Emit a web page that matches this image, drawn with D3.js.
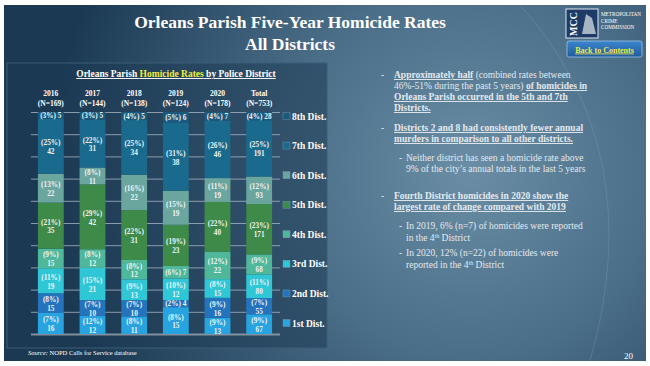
<!DOCTYPE html>
<html><head><meta charset="utf-8">
<script src="https://cdn.jsdelivr.net/npm/d3@7"></script>
<style>body{margin:0;background:#fff}svg{display:block}text{font-family:"Liberation Serif","Times New Roman",serif}</style>
</head><body><svg id="c" width="650" height="366"></svg>
<script>
// ---- data ----
const columns = ["2016","2017","2018","2019","2020","Total"];
const columnN = ["(N=169)","(N=144)","(N=138)","(N=124)","(N=178)","(N=753)"];
const districts = ["1st Dist.","2nd Dist.","3rd Dist.","4th Dist.","5th Dist.","6th Dist.","7th Dist.","8th Dist."];
const counts1st = [16,12,11,15,13,67];
const counts2nd = [15,10,10,4,16,55];
const counts3rd = [19,21,13,12,15,80];
const counts4th = [15,12,12,7,22,68];
const counts5th = [35,42,31,23,40,171];
const counts6th = [22,11,22,19,19,93];
const counts7th = [42,31,34,38,46,191];
const counts8th = [5,5,5,6,7,28];
const pct1st = [7,12,8,8,9,9];
const pct2nd = [8,7,7,2,9,7];
const pct3rd = [11,15,9,10,8,11];
const pct4th = [9,8,8,6,12,9];
const pct5th = [21,29,22,19,22,23];
const pct6th = [13,8,16,15,11,12];
const pct7th = [25,22,25,31,26,25];
const pct8th = [3,3,4,5,4,4];
const tickValues = [0,0.1,0.2,0.3,0.4,0.5,0.6,0.7,0.8,0.9,1];

const countsBy = [counts1st,counts2nd,counts3rd,counts4th,counts5th,counts6th,counts7th,counts8th];
const pctBy = [pct1st,pct2nd,pct3rd,pct4th,pct5th,pct6th,pct7th,pct8th];
const colors = ["#27a3df","#2373bd","#2fc6d6","#4fb79a","#3e8a48","#6aa59e","#196a8d","#1a5a7c"];

const svg = d3.select("#c");
const defs = svg.append("defs");
const rg = defs.append("radialGradient").attr("id","bg").attr("gradientUnits","userSpaceOnUse")
  .attr("cx",470).attr("cy",170).attr("r",420);
rg.append("stop").attr("offset","0").attr("stop-color","#6b8ea6");
rg.append("stop").attr("offset","0.45").attr("stop-color","#4a6d88");
rg.append("stop").attr("offset","1").attr("stop-color","#1b3953");
svg.append("rect").attr("x",4).attr("y",5).attr("width",642).attr("height",356).attr("fill","url(#bg)");
svg.append("path").attr("d","M520,5 Q650,150 590,361").attr("fill","none").attr("stroke","#7d9ab0").attr("stroke-opacity",0.35).attr("stroke-width",1);

// Title
svg.append("text").attr("x",290).attr("y",28).attr("text-anchor","middle").attr("fill","#fff")
  .attr("font-size",17.5).attr("font-weight","bold").text("Orleans Parish Five-Year Homicide Rates");
svg.append("text").attr("x",290).attr("y",50).attr("text-anchor","middle").attr("fill","#fff")
  .attr("font-size",17.5).attr("font-weight","bold").text("All Districts");

// Logo
const lg = svg.append("g");
lg.append("rect").attr("x",566).attr("y",9).attr("width",32).attr("height",29).attr("fill","#1d3b66").attr("stroke","#dfe7ef").attr("stroke-width",1);
lg.append("text").attr("transform","translate(577,36) rotate(-90)").attr("fill","#fff").attr("font-size",10).attr("font-weight","bold").text("MCC");
lg.append("path").attr("d","M582,34 L586,14 L592,18 L596,34 Z").attr("fill","#c9d3dc").attr("opacity",0.8);
["METROPOLITAN","CRIME","COMMISSION"].forEach((t,i)=>{
  lg.append("text").attr("x",601).attr("y",16+i*6.5).attr("fill","#fff").attr("font-size",5.2).text(t);
});
// Button
const bg2 = defs.append("linearGradient").attr("id","btn").attr("x1",0).attr("y1",0).attr("x2",0).attr("y2",1);
bg2.append("stop").attr("offset",0).attr("stop-color","#3b86cf");
bg2.append("stop").attr("offset",1).attr("stop-color","#1f5b9c");
svg.append("rect").attr("x",567).attr("y",41).attr("width",75).attr("height",16).attr("rx",2).attr("fill","url(#btn)").attr("stroke","#9cc3e6").attr("stroke-width",0.8);
svg.append("text").attr("x",604.5).attr("y",52.5).attr("text-anchor","middle").attr("fill","#f3e84a").attr("font-size",8).attr("font-weight","bold").attr("text-decoration","underline").text("Back to Contents");

// Chart panel
svg.append("rect").attr("x",7).attr("y",63).attr("width",320).attr("height",285).attr("fill","#1d3a53").attr("fill-opacity",0.55).attr("stroke","#3c5d77").attr("stroke-width",1);

const ct = svg.append("text").attr("x",176).attr("y",77).attr("text-anchor","middle").attr("fill","#fff").attr("font-size",9.5).attr("font-weight","bold").attr("text-decoration","underline");
ct.append("tspan").text("Orleans Parish ");
ct.append("tspan").attr("fill","#f2ee3c").text("Homicide Rates");
ct.append("tspan").text(" by Police District");

const x = d3.scaleBand().domain(columns).range([30,280]).paddingInner(0.38).paddingOuter(0.19);
const y = d3.scaleLinear().domain([0,1]).range([334,112]);

// gridlines
const grid = svg.append("g").attr("transform","translate(280,0)")
  .call(d3.axisLeft(y).tickValues(tickValues).tickSize(249).tickFormat(""));
grid.select(".domain").remove();
grid.selectAll(".tick line").attr("stroke","#a7b3be").attr("stroke-width",1).attr("stroke-opacity",0.8);
grid.selectAll(".tick").filter(d=>d===0).select("line").attr("stroke","#9aa5ae").attr("stroke-width",2.2);

// stacked data
const rows = columns.map((c,j)=>{
  const o = {col:c};
  districts.forEach((d,i)=>{o[d]=countsBy[i][j];});
  return o;
});
const series = d3.stack().keys(districts).offset(d3.stackOffsetExpand)(rows);

const gs = svg.append("g").selectAll("g").data(series).join("g").attr("fill",(d,i)=>colors[i]);
gs.selectAll("rect").data(d=>d).join("rect")
  .attr("x",d=>x(d.data.col)).attr("width",x.bandwidth())
  .attr("y",d=>y(d[1])).attr("height",d=>y(d[0])-y(d[1]));

// labels
series.forEach((s,i)=>{
  s.forEach((d,j)=>{
    const cx = x(d.data.col)+x.bandwidth()/2;
    const cy = (y(d[0])+y(d[1]))/2;
    const h = y(d[0])-y(d[1]);
    const t = svg.append("text").attr("text-anchor","middle").attr("fill","#eef3f6").attr("font-size",7.3).attr("font-weight","bold");
    const p = "("+pctBy[i][j]+"%)", n = countsBy[i][j];
    if (h < 14) {
      t.attr("x",cx).attr("y",cy+2.6).text(p+" "+n);
    } else {
      t.append("tspan").attr("x",cx).attr("y",cy-1).text(p);
      t.append("tspan").attr("x",cx).attr("y",cy+7.8).text(n);
    }
  });
});

// column headers
columns.forEach((c,j)=>{
  const cx = x(c)+x.bandwidth()/2;
  svg.append("text").attr("x",cx).attr("y",96).attr("text-anchor","middle").attr("fill","#fff").attr("font-size",7.5).attr("font-weight","bold").text(c);
  svg.append("text").attr("x",cx).attr("y",106).attr("text-anchor","middle").attr("fill","#fff").attr("font-size",7.5).attr("font-weight","bold").text(columnN[j]);
});

// legend
const ly = d3.scalePoint().domain(districts.slice().reverse()).range([116,323]);
districts.forEach((d,i)=>{
  svg.append("rect").attr("x",283).attr("y",ly(d)-3.5).attr("width",7).attr("height",7).attr("fill",colors[i]).attr("stroke","#7f9bb0").attr("stroke-width",0.4);
  svg.append("text").attr("x",292).attr("y",ly(d)+3.5).attr("fill","#fff").attr("font-size",9.5).attr("font-weight","bold").text(d);
});

// source & page no
const src = svg.append("text").attr("x",28).attr("y",355).attr("fill","#fff").attr("font-size",6.5);
src.append("tspan").attr("font-style","italic").text("Source:");
src.append("tspan").text(" NOPD Calls for Service database");
svg.append("text").attr("x",624).attr("y",359).attr("fill","#fff").attr("font-size",9).text("20");

// bullet text
const fs = 9.5, tc = "#e3e9ee";
function line(xp, yp, parts){
  const t = svg.append("text").attr("x",xp).attr("y",yp).attr("fill",tc).attr("font-size",fs);
  parts.forEach(p=>{
    const ts = t.append("tspan").text(p.t);
    if (p.b) ts.attr("font-weight","bold").attr("text-decoration","underline");
    if (p.sup) ts.attr("baseline-shift","super").attr("font-size",6);
  });
}
function dash(xp, yp){ svg.append("text").attr("x",xp).attr("y",yp).attr("fill",tc).attr("font-size",fs).text("-"); }
dash(381,78);
line(394,78,[{t:"Approximately half",b:1},{t:" (combined rates between"}]);
line(394,89,[{t:"46%-51% during the past 5 years) "},{t:"of homicides in",b:1}]);
line(394,100,[{t:"Orleans Parish occurred in the 5th and 7th",b:1}]);
line(394,111,[{t:"Districts.",b:1}]);
dash(381,131);
line(394,131,[{t:"Districts 2 and 8 had consistently fewer annual",b:1}]);
line(394,142,[{t:"murders in comparison to all other districts.",b:1}]);
dash(399,161);
line(406,161,[{t:"Neither district has seen a homicide rate above"}]);
line(406,172,[{t:"9% of the city’s annual totals in the last 5 years"}]);
dash(381,199);
line(394,199,[{t:"Fourth District homicides in 2020 show the",b:1}]);
line(394,210,[{t:"largest rate of change compared with 2019",b:1}]);
dash(399,229);
line(406,229,[{t:"In 2019, 6% (n=7) of homicides were reported"}]);
line(406,241,[{t:"in the 4"},{t:"th",sup:1},{t:" District"}]);
dash(399,256);
line(406,256,[{t:"In 2020, 12% (n=22) of homicides were"}]);
line(406,268,[{t:"reported in the 4"},{t:"th",sup:1},{t:" District"}]);
</script></body></html>
